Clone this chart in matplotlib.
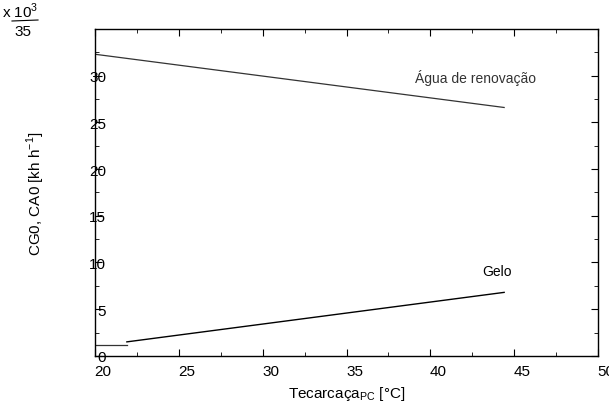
import matplotlib
matplotlib.use("Agg")
import matplotlib.pyplot as plt
import matplotlib.transforms as mtrans
from matplotlib.ticker import MultipleLocator

agua_x = [20.0, 44.4]
agua_y = [32.3, 26.6]
gelo_x0 = [20.0, 21.9]
gelo_y0 = [1.2, 1.2]
gelo_x = [21.9, 44.4]
gelo_y = [1.5, 6.8]
xticks = [20, 25, 30, 35, 40, 45, 50]
yticks = [0, 5, 10, 15, 20, 25, 30]

plt.rcParams['font.family'] = ['Liberation Sans', 'DejaVu Sans']
fig = plt.figure(figsize=(6.09, 4.06), dpi=100)
ax = fig.add_axes([0.156, 0.121, 0.826, 0.805])
ax.plot(agua_x, agua_y, color='#333333', lw=0.9)
ax.plot(gelo_x0, gelo_y0, color='#333333', lw=0.9)
ax.plot(gelo_x, gelo_y, color='black', lw=1.0)
ax.set_xlim(20, 50)
ax.set_ylim(0, 35)
ax.set_xticks(xticks)
ax.set_yticks(yticks)
ax.xaxis.set_minor_locator(MultipleLocator(2.5))
ax.yaxis.set_minor_locator(MultipleLocator(2.5))
ax.tick_params(which='both', direction='in', top=True, right=True, labelsize=11)
ax.tick_params(which='major', length=5)
ax.tick_params(which='minor', length=3)
ax.tick_params(axis='y', pad=-8)
ax.tick_params(axis='x', pad=6)
for lab in ax.get_xticklabels():
    lab.set_transform(lab.get_transform() + mtrans.ScaledTranslation(8/100, 0, fig.dpi_scale_trans))
for s in ax.spines.values():
    s.set_linewidth(1.0)
ax.set_xlabel('Tecarcaça$_{\\mathregular{PC}}$ [°C]', fontsize=11)
ax.set_ylabel('CG0, CA0 [kh h$^{\\mathregular{-1}}$]', fontsize=11, labelpad=30)
ax.text(415/609, 1 - 78/406, 'Água de renovação', transform=fig.transFigure, fontsize=10, color='#333333', va='center')
ax.text(482/609, 1 - 272/406, 'Gelo', transform=fig.transFigure, fontsize=10, va='center')
fig.text(2/609, 1 - 11/406, 'x 10$^{\\mathregular{3}}$', fontsize=11, va='center')
fig.add_artist(plt.Line2D([12/609, 38/609], [1 - 22/406, 1 - 21/406], color='black', lw=0.8))
fig.text(14/609, 1 - 32/406, '35', fontsize=11, va='center')
fig.savefig('out.png', dpi=100)
